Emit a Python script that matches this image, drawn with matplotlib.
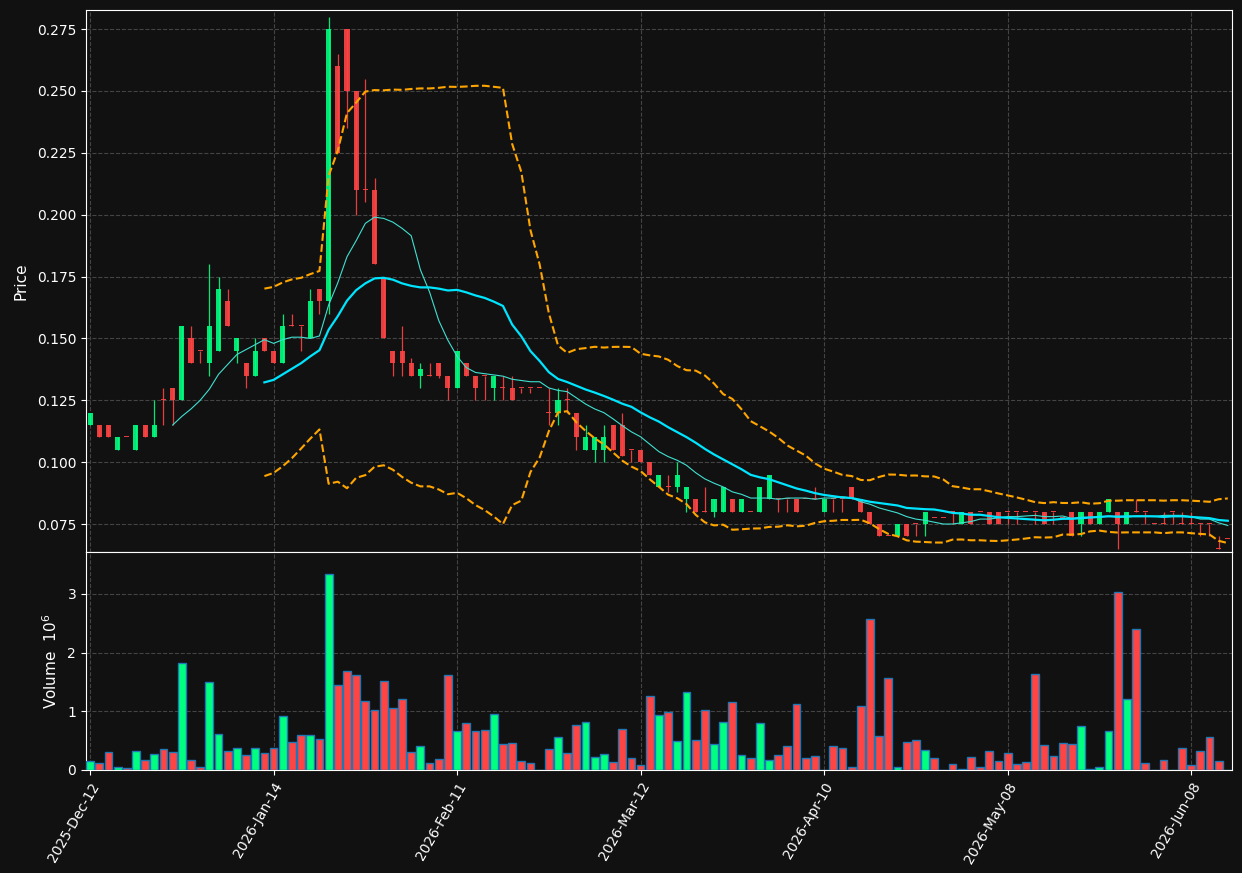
import matplotlib
matplotlib.use('Agg')
import matplotlib.pyplot as plt
import numpy as np
import pandas as pd

# --- Data ---
HOLIDAYS = ['2025-12-25', '2025-12-26', '2026-01-01', '2026-02-16', '2026-04-03', '2026-05-25']
DATES = pd.bdate_range('2025-12-12', periods=125, freq='C', holidays=HOLIDAYS)

OPEN = [0.115, 0.115, 0.115, 0.105, 0.110, 0.105, 0.115, 0.110, 0.125, 0.130,
        0.125, 0.150, 0.145, 0.140, 0.145, 0.165, 0.145, 0.140, 0.135, 0.150,
        0.145, 0.140, 0.155, 0.155, 0.150, 0.170, 0.165, 0.260, 0.275, 0.250,
        0.210, 0.210, 0.175, 0.145, 0.145, 0.140, 0.135, 0.135, 0.140, 0.135,
        0.130, 0.140, 0.135, 0.135, 0.130, 0.130, 0.130, 0.130, 0.130, 0.130,
        0.120, 0.120, 0.125, 0.120, 0.105, 0.105, 0.105, 0.115, 0.115, 0.105,
        0.105, 0.100, 0.090, 0.090, 0.090, 0.085, 0.085, 0.080, 0.080, 0.080,
        0.085, 0.080, 0.080, 0.080, 0.085, 0.085, 0.085, 0.085, 0.085, 0.085,
        0.080, 0.085, 0.085, 0.090, 0.085, 0.080, 0.075, 0.070, 0.070, 0.075,
        0.075, 0.075, 0.0775, 0.0775, 0.080, 0.075, 0.080, 0.080, 0.080, 0.080,
        0.080, 0.080, 0.080, 0.080, 0.080, 0.080, 0.0775, 0.080, 0.075, 0.080,
        0.075, 0.080, 0.080, 0.075, 0.080, 0.080, 0.075, 0.075, 0.080, 0.075,
        0.075, 0.075, 0.075, 0.065, 0.069]
HIGH = [0.120, 0.115, 0.115, 0.110, 0.110, 0.115, 0.115, 0.125, 0.130, 0.130,
        0.155, 0.155, 0.145, 0.180, 0.175, 0.170, 0.150, 0.140, 0.150, 0.150,
        0.145, 0.160, 0.160, 0.155, 0.170, 0.170, 0.280, 0.265, 0.275, 0.250,
        0.255, 0.215, 0.175, 0.145, 0.155, 0.142, 0.140, 0.140, 0.140, 0.135,
        0.145, 0.140, 0.135, 0.135, 0.135, 0.135, 0.135, 0.130, 0.130, 0.130,
        0.130, 0.130, 0.130, 0.120, 0.115, 0.110, 0.115, 0.115, 0.120, 0.105,
        0.105, 0.100, 0.095, 0.095, 0.100, 0.090, 0.085, 0.090, 0.085, 0.090,
        0.085, 0.085, 0.080, 0.090, 0.095, 0.085, 0.085, 0.085, 0.085, 0.090,
        0.085, 0.085, 0.085, 0.090, 0.085, 0.080, 0.075, 0.070, 0.075, 0.075,
        0.075, 0.080, 0.0775, 0.0775, 0.080, 0.080, 0.080, 0.080, 0.080, 0.080,
        0.080, 0.080, 0.080, 0.080, 0.080, 0.080, 0.0775, 0.080, 0.080, 0.080,
        0.080, 0.085, 0.080, 0.080, 0.085, 0.080, 0.075, 0.080, 0.080, 0.080,
        0.080, 0.075, 0.075, 0.070, 0.069]
LOW = [0.115, 0.110, 0.110, 0.105, 0.110, 0.105, 0.110, 0.110, 0.115, 0.115,
       0.125, 0.140, 0.140, 0.135, 0.145, 0.155, 0.140, 0.130, 0.135, 0.145,
       0.140, 0.140, 0.155, 0.145, 0.150, 0.160, 0.160, 0.225, 0.235, 0.200,
       0.205, 0.180, 0.150, 0.135, 0.135, 0.135, 0.130, 0.135, 0.134, 0.125,
       0.130, 0.135, 0.125, 0.125, 0.125, 0.125, 0.125, 0.128, 0.128, 0.130,
       0.115, 0.115, 0.120, 0.105, 0.105, 0.100, 0.100, 0.105, 0.1025, 0.100,
       0.100, 0.095, 0.090, 0.088, 0.088, 0.080, 0.080, 0.080, 0.078, 0.080,
       0.080, 0.080, 0.080, 0.080, 0.085, 0.080, 0.080, 0.080, 0.085, 0.085,
       0.080, 0.080, 0.080, 0.085, 0.080, 0.075, 0.070, 0.070, 0.070, 0.070,
       0.070, 0.070, 0.0775, 0.0775, 0.075, 0.075, 0.075, 0.080, 0.075, 0.075,
       0.075, 0.075, 0.080, 0.075, 0.075, 0.075, 0.0775, 0.070, 0.070, 0.075,
       0.075, 0.080, 0.065, 0.075, 0.080, 0.075, 0.075, 0.075, 0.075, 0.075,
       0.075, 0.070, 0.070, 0.065, 0.069]
CLOSE = [0.120, 0.110, 0.110, 0.110, 0.110, 0.115, 0.110, 0.115, 0.125, 0.125,
         0.155, 0.140, 0.145, 0.155, 0.170, 0.155, 0.150, 0.135, 0.145, 0.145,
         0.140, 0.155, 0.155, 0.155, 0.165, 0.165, 0.275, 0.225, 0.250, 0.210,
         0.210, 0.180, 0.150, 0.140, 0.140, 0.135, 0.1375, 0.135, 0.135, 0.130,
         0.145, 0.135, 0.130, 0.135, 0.135, 0.130, 0.125, 0.130, 0.130, 0.130,
         0.120, 0.125, 0.125, 0.110, 0.110, 0.110, 0.110, 0.105, 0.1025, 0.105,
         0.100, 0.095, 0.095, 0.090, 0.095, 0.090, 0.080, 0.080, 0.085, 0.090,
         0.080, 0.085, 0.080, 0.090, 0.095, 0.085, 0.085, 0.080, 0.085, 0.085,
         0.085, 0.085, 0.085, 0.085, 0.080, 0.075, 0.070, 0.070, 0.075, 0.070,
         0.075, 0.080, 0.0775, 0.0775, 0.080, 0.080, 0.075, 0.080, 0.075, 0.075,
         0.080, 0.080, 0.080, 0.080, 0.075, 0.080, 0.0775, 0.070, 0.080, 0.075,
         0.080, 0.085, 0.075, 0.080, 0.080, 0.080, 0.075, 0.075, 0.080, 0.075,
         0.075, 0.075, 0.075, 0.065, 0.069]
# volume in millions
VOLUME_M = [0.147, 0.113, 0.311, 0.056, 0.040, 0.328, 0.164, 0.266, 0.350, 0.299,
            1.825, 0.164, 0.056, 1.503, 0.621, 0.316, 0.367, 0.249, 0.367, 0.282,
            0.367, 0.927, 0.469, 0.588, 0.588, 0.520, 3.333, 1.452, 1.689, 1.621,
            1.181, 1.028, 1.520, 1.062, 1.215, 0.299, 0.401, 0.113, 0.181, 1.621,
            0.672, 0.808, 0.672, 0.689, 0.960, 0.435, 0.452, 0.147, 0.113, 0.0,
            0.350, 0.554, 0.282, 0.774, 0.825, 0.215, 0.266, 0.130, 0.706, 0.198,
            0.079, 1.266, 0.944, 0.994, 0.486, 1.333, 0.503, 1.028, 0.435, 0.825,
            1.164, 0.249, 0.198, 0.808, 0.164, 0.249, 0.401, 1.130, 0.198, 0.232,
            0.0, 0.401, 0.367, 0.045, 1.096, 2.571, 0.571, 1.571, 0.056, 0.469,
            0.503, 0.333, 0.198, 0.0, 0.096, 0.023, 0.215, 0.056, 0.316, 0.147,
            0.282, 0.096, 0.130, 1.638, 0.418, 0.232, 0.452, 0.435, 0.757, 0.023,
            0.056, 0.672, 3.028, 1.215, 2.401, 0.113, 0.0, 0.164, 0.0, 0.367,
            0.079, 0.316, 0.554, 0.147, 0.0]

PRICE_TICKS = [0.075, 0.100, 0.125, 0.150, 0.175, 0.200, 0.225, 0.250, 0.275]
VOL_TICKS = [0, 1, 2, 3]

# --- Style ---
BG = '#111111'
UP = '#00ff80'
DOWN = '#ff4444'
GRID = '#444444'

df = pd.DataFrame({'Open': OPEN, 'High': HIGH, 'Low': LOW, 'Close': CLOSE,
                   'Volume': VOLUME_M}, index=DATES)
x = np.arange(len(df))
up = df['Close'] > df['Open']
colors = np.where(up, UP, DOWN)

ma10 = df['Close'].rolling(10).mean()
ma20 = df['Close'].rolling(20).mean()
sd20 = df['Close'].rolling(20).std(ddof=0)
bb_up = ma20 + 2 * sd20
bb_lo = ma20 - 2 * sd20

fig = plt.figure(figsize=(12.42, 8.73), dpi=100, facecolor=BG)
ax = fig.add_axes([0.0692, 0.3677, 0.9227, 0.6208])
axv = fig.add_axes([0.0692, 0.1180, 0.9227, 0.2497], sharex=ax)

for a in (ax, axv):
    a.set_facecolor(BG)
    for s in a.spines.values():
        s.set_color('white')
    a.tick_params(colors='white', labelsize=10)
    a.grid(True, color=GRID, linestyle='--', linewidth=0.8)
    a.set_axisbelow(True)

# candles
body_w = 0.55
ax.vlines(x, df['Low'], df['High'], colors=colors, linewidth=0.9, alpha=0.9, zorder=2)
heights = np.maximum((df['Close'] - df['Open']).abs(), 0.0004)
bottoms = np.minimum(df['Open'], df['Close'])
ax.bar(x, heights, body_w, bottom=bottoms, color=colors, linewidth=0, alpha=0.9, zorder=3)

# moving averages + bollinger bands
ax.plot(x, ma10, color='#40e0d0', linewidth=0.8, zorder=4)
ax.plot(x, ma20, color='#00e5ff', linewidth=1.6, zorder=4)
ax.plot(x, bb_up, color='orange', linewidth=1.5, linestyle='--', zorder=4)
ax.plot(x, bb_lo, color='orange', linewidth=1.5, linestyle='--', zorder=4)

ax.set_ylim(0.0637, 0.2827)
ax.set_yticks(PRICE_TICKS)
ax.set_yticklabels([f'{t:.3f}' for t in PRICE_TICKS])
ax.set_ylabel('Price', color='white', fontsize=11, labelpad=6)
ax.tick_params(axis='x', which='both', length=0, labelbottom=False)

# volume
axv.bar(x, df['Volume'], 0.85, color=colors, edgecolor='#1f77b4', linewidth=1.0, zorder=3)
axv.set_ylim(0, 3.716)
axv.set_yticks(VOL_TICKS)
axv.set_yticklabels([str(t) for t in VOL_TICKS])
axv.set_ylabel('Volume  $10^{6}$', color='white', fontsize=11, labelpad=5)

tick_idx = list(range(0, len(df), 20))
axv.set_xticks(tick_idx)
axv.set_xticklabels([DATES[i].strftime('%Y-%b-%d') for i in tick_idx],
                    rotation=60, ha='right', rotation_mode='anchor')
axv.set_xlim(-0.45, len(df) - 0.55)

fig.savefig('out.png', dpi=100, facecolor=BG)
